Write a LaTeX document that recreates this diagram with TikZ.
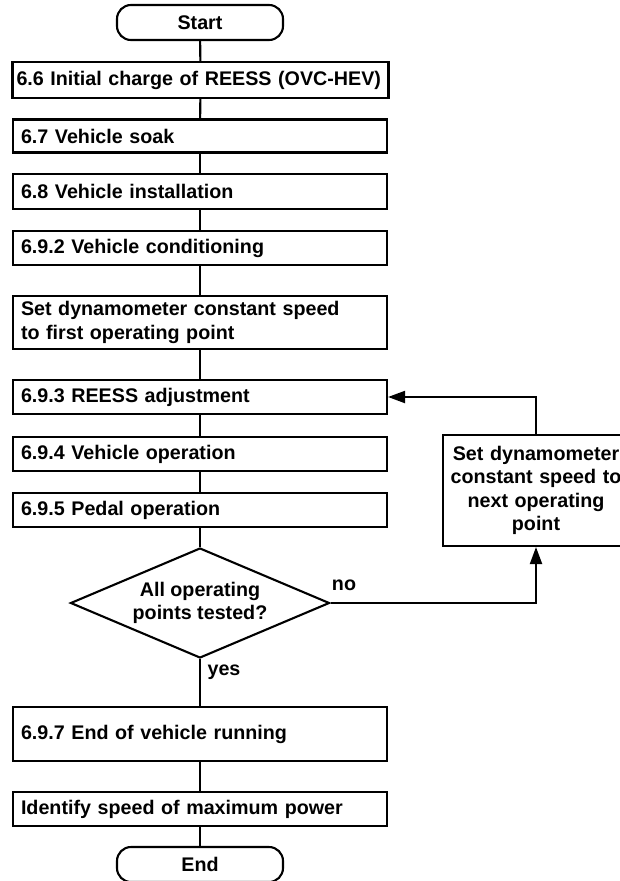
\documentclass[tikz,border=0pt]{standalone}
\usepackage{fontspec}
\setmainfont{Liberation Sans}
\usetikzlibrary{shapes.geometric,arrows.meta}
\tikzset{
  every node/.style={font=\fontsize{19.7}{23.5}\selectfont\bfseries},
  stepbox/.style={draw, line width=2.1pt, text width=358pt, inner xsep=8pt, inner ysep=0pt, align=left, minimum width=374pt},
  termbox/.style={draw, line width=2.1pt, rounded corners=14pt, minimum width=166pt, minimum height=35pt, inner sep=0pt},
  decbox/.style={draw, line width=2.1pt, diamond, shape aspect=2.35, inner sep=0pt, minimum width=259pt, minimum height=110pt, align=center},
  sidebox/.style={draw, line width=2.1pt, text width=172pt, inner xsep=7pt, align=center, minimum height=111pt},
  conn/.style={line width=2.1pt},
  arr/.style={line width=2.1pt, -{Triangle[length=17pt,width=12pt]}},
  lbl/.style={inner sep=0pt}
}
\begin{document}
\begin{tikzpicture}[x=1pt,y=-1pt]
\useasboundingbox (0,0) rectangle (620,881);
\node[termbox] (start) at (200,22.5) {Start};
\node[stepbox, minimum height=36pt, minimum width=376pt, text width=368pt, inner xsep=4pt] (b66) at (200.5,80) {6.6~Initial~charge~of~REESS~(OVC-HEV)};
\node[stepbox, minimum height=33pt] (b67) at (200,136) {6.7 Vehicle soak};
\node[stepbox, minimum height=35pt] (b68) at (200,191.5) {6.8 Vehicle installation};
\node[stepbox, minimum height=34pt] (b692) at (200,248) {6.9.2 Vehicle conditioning};
\node[stepbox, minimum height=53pt] (bset) at (200,322.5) {Set dynamometer constant speed\\to first operating point};
\node[stepbox, minimum height=34pt] (b693) at (200,397) {6.9.3 REESS adjustment};
\node[stepbox, minimum height=34pt] (b694) at (200,454) {6.9.4 Vehicle operation};
\node[stepbox, minimum height=34pt] (b695) at (200,510) {6.9.5 Pedal operation};
\node[decbox] (dec) at (200,603) {All operating\\points tested?};
\node[stepbox, minimum height=54pt] (b697) at (200,734) {6.9.7 End of vehicle running};
\node[stepbox, minimum height=34pt] (bid) at (200,809) {Identify speed of maximum power};
\node[termbox] (end) at (200,864.5) {End};
\node[sidebox] (next) at (536,490.5) {Set dynamometer\\constant speed to\\next operating\\point};
\node[lbl] (no) at (344,585) {no};
\node[lbl] (yes) at (224,672) {yes};

\draw[conn] (start) -- (b66);
\draw[conn] (b66) -- (b67);
\draw[conn] (b67) -- (b68);
\draw[conn] (b68) -- (b692);
\draw[conn] (b692) -- (bset);
\draw[conn] (bset) -- (b693);
\draw[conn] (b693) -- (b694);
\draw[conn] (b694) -- (b695);
\draw[conn] (b695) -- (dec);
\draw[conn] (dec) -- (b697);
\draw[conn] (b697) -- (bid);
\draw[conn] (bid) -- (end);
\draw[arr] (dec.east) -| (next.south);
\draw[arr] (next.north) |- (b693.east);
\end{tikzpicture}
\end{document}
